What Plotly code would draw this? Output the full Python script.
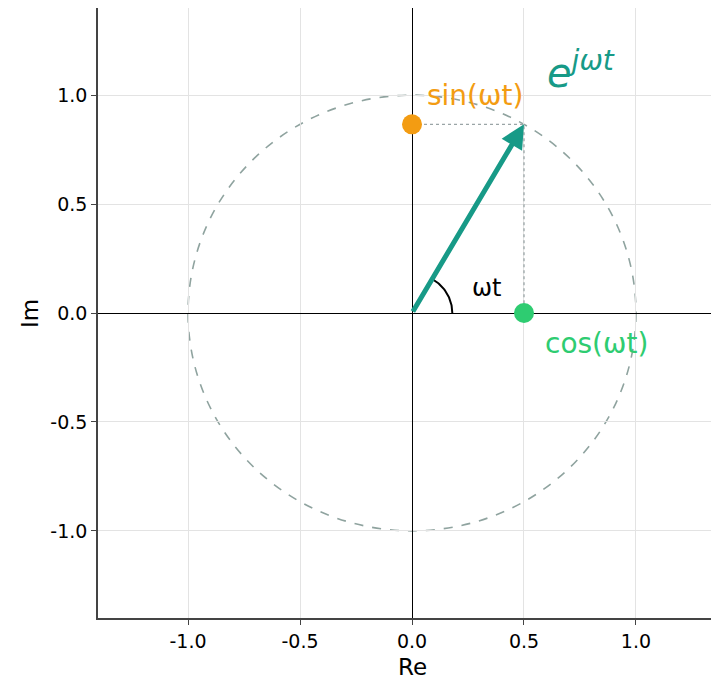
import numpy as np
import plotly.graph_objects as go

# ---- data ----
angle_deg = 60.0
re_val = 0.5
im_val = 0.866
tick_vals = [-1.0, -0.5, 0.0, 0.5, 1.0]
tick_text = ["-1.0", "-0.5", "0.0", "0.5", "1.0"]
arc_radius = 0.18

TEAL = "#179a87"
ORANGE = "#f39c12"
GREEN = "#2ecc71"
CIRCLE = "#8fa39f"
DOT = "#9aa5a6"
FONT = "DejaVu Sans"

fig = go.Figure()

# unit circle
fig.add_shape(type="circle", xref="x", yref="y", x0=-1, y0=-1, x1=1, y1=1,
              line=dict(color=CIRCLE, width=1.6, dash="dash"), layer="below")

# projection lines
fig.add_trace(go.Scatter(x=[0, re_val, re_val], y=[im_val, im_val, 0], mode="lines",
                         line=dict(color=DOT, width=1.3, dash="dot"),
                         hoverinfo="skip", showlegend=False))

# angle arc
th = np.linspace(0, np.deg2rad(angle_deg), 40)
fig.add_trace(go.Scatter(x=arc_radius * np.cos(th), y=arc_radius * np.sin(th), mode="lines",
                         line=dict(color="black", width=2), hoverinfo="skip", showlegend=False))

# points
fig.add_trace(go.Scatter(x=[0], y=[im_val], mode="markers",
                         marker=dict(color=ORANGE, size=20), showlegend=False))
fig.add_trace(go.Scatter(x=[re_val], y=[0], mode="markers",
                         marker=dict(color=GREEN, size=20), showlegend=False))

# arrow
fig.add_annotation(x=re_val, y=im_val, ax=0, ay=0, xref="x", yref="y", axref="x", ayref="y",
                   showarrow=True, arrowhead=2, arrowsize=0.95, arrowwidth=5,
                   arrowcolor=TEAL, text="", standoff=0)

# labels
fig.add_annotation(x=0.06, y=1.0, xref="x", yref="y", text="sin(ωt)", showarrow=False,
                   xanchor="left", yanchor="middle", font=dict(family=FONT, size=28, color=ORANGE))
fig.add_annotation(x=0.585, y=-0.14, xref="x", yref="y", text="cos(ωt)", showarrow=False,
                   xanchor="left", yanchor="middle", font=dict(family=FONT, size=28, color=GREEN))
fig.add_annotation(x=0.335, y=0.115, xref="x", yref="y", text="ωt", showarrow=False,
                   xanchor="center", yanchor="middle", font=dict(family=FONT, size=24, color="black"))
fig.add_annotation(x=0.595, y=1.115, xref="x", yref="y", text="<i>e<sup>jωt</sup></i>", showarrow=False,
                   xanchor="left", yanchor="middle", font=dict(family=FONT, size=40, color=TEAL))

# axis titles
fig.add_annotation(x=0, y=-0.08, xref="paper" if False else "x", yref="paper", text="Re", showarrow=False,
                   xanchor="center", yanchor="middle", font=dict(family=FONT, size=23, color="black"))
fig.add_annotation(x=-0.111, y=0, xref="paper", yref="y", text="Im", showarrow=False, textangle=-90,
                   xanchor="center", yanchor="middle", font=dict(family=FONT, size=23, color="black"))

axis_common = dict(
    tickvals=tick_vals, ticktext=tick_text, showgrid=True, gridcolor="#e3e3e3", gridwidth=1,
    zeroline=True, zerolinecolor="black", zerolinewidth=1.2,
    showline=True, linecolor="#444444", linewidth=1.6, mirror=False,
    ticks="outside", ticklen=5, tickwidth=1.2, tickcolor="#444444",
    tickfont=dict(family=FONT, size=19, color="black"),
)

fig.update_layout(
    width=711, height=679,
    margin=dict(l=98, r=0, t=8, b=61),
    paper_bgcolor="white", plot_bgcolor="white",
    xaxis=dict(range=[-1.402, 1.335], **axis_common),
    yaxis=dict(range=[-1.4, 1.4], **axis_common),
    showlegend=False,
)

fig.write_html("out.html")
